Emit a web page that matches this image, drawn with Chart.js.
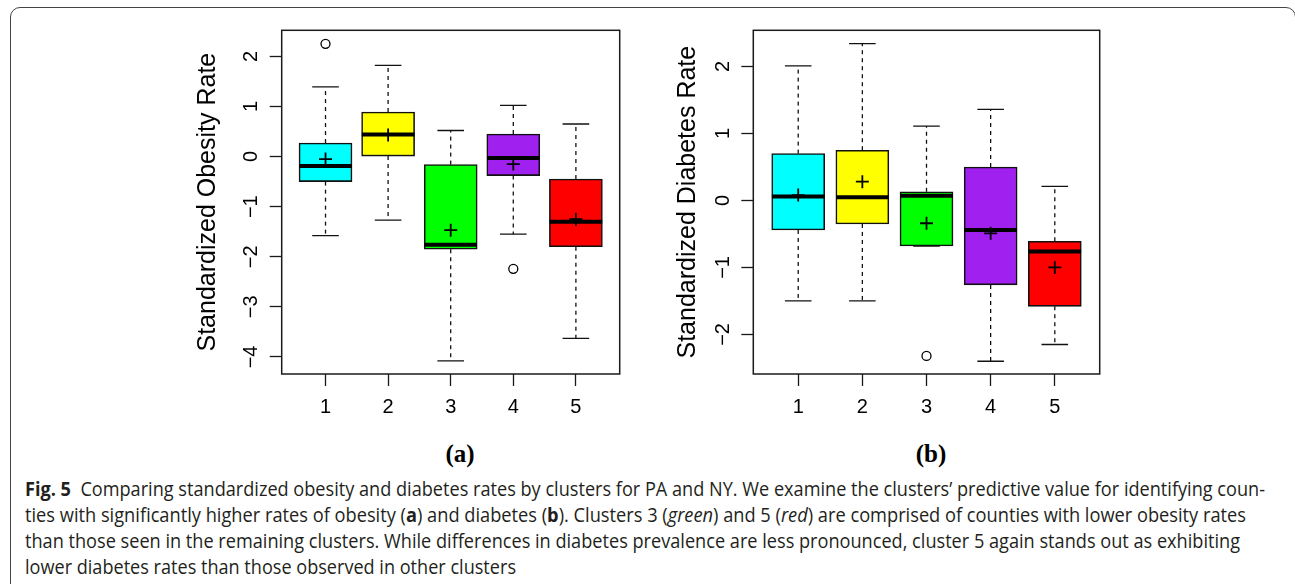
<!DOCTYPE html>
<html><head><meta charset="utf-8">
<script src="https://cdn.jsdelivr.net/npm/chart.js@4.4.1/dist/chart.umd.min.js"></script>
<style>
html,body{margin:0;padding:0;background:#fff;}
body{width:1295px;height:584px;position:relative;overflow:hidden;}
#frame{position:absolute;left:10px;top:7px;width:1286px;height:640px;border:1px solid #444;border-radius:10px;box-sizing:border-box;}
.panel{position:absolute;top:0;width:470px;height:430px;}
.panel canvas{display:block;}
.plabel{position:absolute;width:100px;text-align:center;font-family:"Liberation Serif","Times New Roman",serif;font-weight:bold;font-size:25px;line-height:28px;color:#000;}
.cap{position:absolute;left:25px;white-space:nowrap;font-family:"Open Sans","Noto Sans",sans-serif;font-size:20px;line-height:26px;color:#231f20;transform-origin:0 0;}
.cap b{font-weight:700;}
</style></head>
<body>
<div id="frame"></div>
<div class="panel" style="left:180px"><canvas id="ca" width="470" height="430" style="width:470px;height:430px"></canvas></div>
<div class="panel" style="left:660px"><canvas id="cb" width="470" height="430" style="width:470px;height:430px"></canvas></div>
<div class="plabel" style="left:410px;top:439.6px">(a)</div>
<div class="plabel" style="left:881px;top:439.6px">(b)</div>
<div class="cap" data-w="1240" style="top:475.7px"><b>Fig. 5</b>&nbsp; Comparing standardized obesity and diabetes rates by clusters for PA and NY. We examine the clusters’ predictive value for identifying coun-</div>
<div class="cap" data-w="1221" style="top:501.7px">ties with significantly higher rates of obesity (<b>a</b>) and diabetes (<b>b</b>). Clusters 3 (<i>green</i>) and 5 (<i>red</i>) are comprised of counties with lower obesity rates</div>
<div class="cap" data-w="1215" style="top:527.7px">than those seen in the remaining clusters. While differences in diabetes prevalence are less pronounced, cluster 5 again stands out as exhibiting</div>
<div class="cap" data-w="491" style="top:553.7px">lower diabetes rates than those observed in other clusters</div>
<script>
// ---- Data ----
const clusters = ['1', '2', '3', '4', '5'];
const clusterPos = [1, 2, 3, 4, 5];
const boxColors = ['#00FFFF', '#FFFF00', '#00FF00', '#A020F0', '#FF0000'];

// Panel (a): standardized obesity rate
const obLow    = [-1.58, -1.27, -4.08, -1.55, -3.63];
const obQ1     = [-0.50,  0.01, -1.85, -0.38, -1.80];
const obMedian = [-0.19,  0.44, -1.76, -0.03, -1.30];
const obQ3     = [ 0.27,  0.89, -0.16,  0.45, -0.45];
const obHigh   = [ 1.39,  1.82,  0.52,  1.02,  0.65];
const obMean   = [-0.05,  0.43, -1.47, -0.15, -1.25];
const obOutX   = [1, 4];
const obOutY   = [2.25, -2.24];
const obYTicks = [-4, -3, -2, -1, 0, 1, 2];
const obYTickLabels = ['\u22124', '\u22123', '\u22122', '\u22121', '0', '1', '2'];

// Panel (b): standardized diabetes rate
const diLow    = [-1.50, -1.50, -0.68, -2.40, -2.15];
const diQ1     = [-0.44, -0.35, -0.68, -1.26, -1.58];
const diMedian = [ 0.06,  0.05,  0.07, -0.44, -0.76];
const diQ3     = [ 0.70,  0.75,  0.13,  0.50, -0.61];
const diHigh   = [ 2.01,  2.34,  1.11,  1.36,  0.21];
const diMean   = [ 0.08,  0.28, -0.34, -0.49, -1.00];
const diOutX   = [3];
const diOutY   = [-2.32];
const diYTicks = [-2, -1, 0, 1, 2];
const diYTickLabels = ['\u22122', '\u22121', '0', '1', '2'];

const SANS = '"Liberation Sans", Arial, Helvetica, sans-serif';

function makeDatasets(low, q1, med, q3, high, mean, outX, outY) {
  const ds = [];
  ds.push({type: 'bar', data: clusterPos.map((x, i) => ({x: x, y: [q1[i], q3[i]]})),
    backgroundColor: boxColors, borderColor: '#111', borderWidth: 1.6, borderSkipped: false,
    barThickness: 53, grouped: false, order: 10});
  clusterPos.forEach((x, i) => {
    ds.push({type: 'line', data: [{x: x, y: q3[i]}, {x: x, y: high[i]}], borderColor: '#111',
      borderWidth: 1.3, borderDash: [4, 4], pointRadius: 0, fill: false, order: 6});
    ds.push({type: 'line', data: [{x: x, y: q1[i]}, {x: x, y: low[i]}], borderColor: '#111',
      borderWidth: 1.3, borderDash: [4, 4], pointRadius: 0, fill: false, order: 6});
  });
  ds.push({type: 'scatter', data: clusterPos.flatMap((x, i) => [{x: x, y: high[i]}, {x: x, y: low[i]}]),
    pointStyle: 'line', pointRadius: 13.3, pointBorderColor: '#111', pointBorderWidth: 1.3,
    borderColor: '#111', borderWidth: 1.3, order: 4});
  ds.push({type: 'scatter', data: clusterPos.map((x, i) => ({x: x, y: med[i]})),
    pointStyle: 'line', pointRadius: 26.3, pointBorderColor: '#000', pointBorderWidth: 4,
    borderColor: '#000', borderWidth: 4, order: 3});
  ds.push({type: 'scatter', data: clusterPos.map((x, i) => ({x: x, y: mean[i]})),
    pointStyle: 'cross', pointRadius: 6.5, pointBorderColor: '#000', pointBorderWidth: 1.8,
    borderColor: '#000', borderWidth: 1.8, order: 2});
  ds.push({type: 'scatter', data: outX.map((x, i) => ({x: x, y: outY[i]})),
    pointStyle: 'circle', pointRadius: 4.5, pointBorderColor: '#000', pointBorderWidth: 1.3,
    pointBackgroundColor: 'rgba(0,0,0,0)', borderColor: '#000', borderWidth: 1.3, order: 1});
  return ds;
}

const framePlugin = {
  id: 'frameAndYLabels',
  afterDraw(chart) {
    const ctx = chart.ctx, a = chart.chartArea, y = chart.scales.y;
    ctx.save();
    ctx.strokeStyle = '#1a1a1a';
    ctx.lineWidth = 1.5;
    ctx.strokeRect(a.left, a.top, a.right - a.left, a.bottom - a.top);
    ctx.fillStyle = '#000';
    ctx.font = '20px ' + SANS;
    ctx.textAlign = 'center';
    ctx.textBaseline = 'middle';
    y.ticks.forEach(t => {
      const py = y.getPixelForValue(t.value);
      ctx.save();
      ctx.translate(a.left - 30, py);
      ctx.rotate(-Math.PI / 2);
      ctx.fillText(t.label, 0, 0);
      ctx.restore();
    });
    ctx.restore();
  }
};

function makeChart(id, title, yMin, yMax, yTicks, yTickLabels, axisW, padRight, datasets) {
  return new Chart(document.getElementById(id), {
    type: 'bar',
    data: {datasets: datasets},
    options: {
      responsive: false, animation: false, events: [],
      layout: {padding: {top: 24.3, right: padRight, left: 0, bottom: 0}},
      plugins: {legend: {display: false}, tooltip: {enabled: false}},
      scales: {
        x: {
          type: 'linear', min: 0.3, max: 5.7, offset: false,
          afterBuildTicks: s => { s.ticks = clusterPos.map(v => ({value: v})); },
          afterFit: s => { s.height = 56; },
          ticks: {callback: (v, i) => clusters[i], color: '#000', font: {family: SANS, size: 20},
            padding: 9, autoSkip: false, maxRotation: 0, minRotation: 0},
          grid: {offset: false, drawOnChartArea: false, drawTicks: true, tickLength: 12, tickWidth: 1.3, tickColor: '#1a1a1a'},
          border: {display: false}
        },
        y: {
          type: 'linear', min: yMin, max: yMax,
          afterBuildTicks: s => { s.ticks = yTicks.map(v => ({value: v})); },
          afterFit: s => { s.width = axisW; },
          ticks: {callback: (v, i) => yTickLabels[i], color: 'rgba(0,0,0,0)', font: {family: SANS, size: 20}},
          grid: {drawOnChartArea: false, drawTicks: true, tickLength: 12, tickWidth: 1.3, tickColor: '#1a1a1a'},
          border: {display: false},
          title: {display: true, text: title, color: '#000', font: {family: SANS, size: 25},
            padding: {top: 13, bottom: 0}}
        }
      }
    },
    plugins: [framePlugin]
  });
}

makeChart('ca', 'Standardized Obesity Rate', -4.34, 2.52, obYTicks, obYTickLabels, 101.7, 11,
  makeDatasets(obLow, obQ1, obMedian, obQ3, obHigh, obMean, obOutX, obOutY));
makeChart('cb', 'Standardized Diabetes Rate', -2.59, 2.54, diYTicks, diYTickLabels, 93.3, 19.7,
  makeDatasets(diLow, diQ1, diMedian, diQ3, diHigh, diMean, diOutX, diOutY));

function fitCaptions() {
  document.querySelectorAll('.cap').forEach(el => {
    el.style.transform = 'none';
    const w = el.getBoundingClientRect().width;
    const t = +el.dataset.w;
    el.style.transform = 'scaleX(' + (t / w) + ')';
  });
}
fitCaptions();
if (document.fonts && document.fonts.ready) document.fonts.ready.then(fitCaptions);
</script>
</body></html>
